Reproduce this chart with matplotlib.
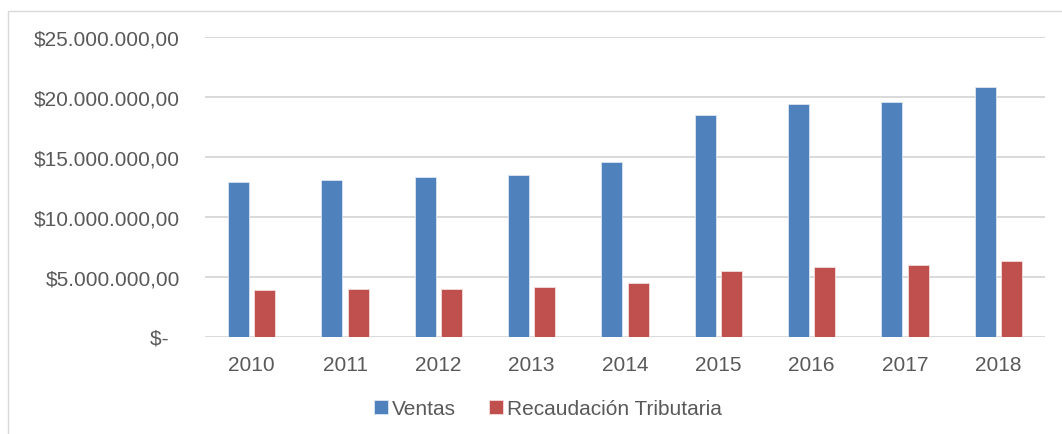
import matplotlib

matplotlib.use("Agg")
import matplotlib.pyplot as plt
import numpy as np
from matplotlib.patches import Rectangle
from matplotlib.ticker import FuncFormatter

plt.rcParams["font.family"] = ["Liberation Sans", "DejaVu Sans"]

years = ["2010", "2011", "2012", "2013", "2014", "2015", "2016", "2017", "2018"]
ventas = [12.9e6, 13.07e6, 13.35e6, 13.5e6, 14.57e6, 18.5e6, 19.4e6, 19.6e6, 20.8e6]
recaudacion = [3.85e6, 3.98e6, 3.98e6, 4.15e6, 4.43e6, 5.5e6, 5.8e6, 5.96e6, 6.27e6]

BLUE = "#4f81bd"
RED = "#c0504d"
TXT = "#595959"
GRID = "#d9d9d9"

W, H = 1062, 435
fig = plt.figure(figsize=(W / 100, H / 100), dpi=100)
ax = fig.add_axes([205 / W, 1 - 337.5 / H, 840 / W, 299.5 / H])

x = np.arange(len(years))
bw = 0.225
gap = 0.06
ax.bar(x - (bw + gap) / 2, ventas, bw, color=BLUE, edgecolor="#dce6f2", lw=0.6,
       label="Ventas", zorder=3)
ax.bar(x + (bw + gap) / 2, recaudacion, bw, color=RED, edgecolor="#f2dcdb", lw=0.6,
       label="Recaudación Tributaria", zorder=3)

ax.set_xlim(-0.5, len(years) - 0.5)
ax.set_ylim(0, 25e6)
ax.set_yticks(np.arange(0, 25e6 + 1, 5e6))


def money(v, _):
    # accounting style: zero shows as "$-" set in from the right
    if v == 0:
        return "$-  "
    s = f"{v:,.2f}".replace(",", "X").replace(".", ",").replace("X", ".")
    return "$" + s


ax.yaxis.set_major_formatter(FuncFormatter(money))
ax.set_xticks(x)
ax.set_xticklabels(years)
ax.tick_params(axis="both", length=0, labelsize=15, colors=TXT)
ax.tick_params(axis="y", pad=18)
ax.tick_params(axis="x", pad=13)
ax.grid(axis="y", color=GRID, lw=1.4, zorder=0)
for s in ax.spines.values():
    s.set_visible(False)

fig.legend(loc="center", bbox_to_anchor=(548 / W, 1 - 410 / H), ncol=2, frameon=False,
           fontsize=15, labelcolor=TXT, handlelength=0.65, handleheight=0.65,
           handletextpad=0.2, columnspacing=1.6)

fig.patches.append(Rectangle((8 / W, -0.1), 1.2, 1 - 12 / H + 0.1, transform=fig.transFigure,
                             fill=False, ec="#d9d9d9", lw=1))

fig.savefig("out.png", dpi=100, facecolor="white")
